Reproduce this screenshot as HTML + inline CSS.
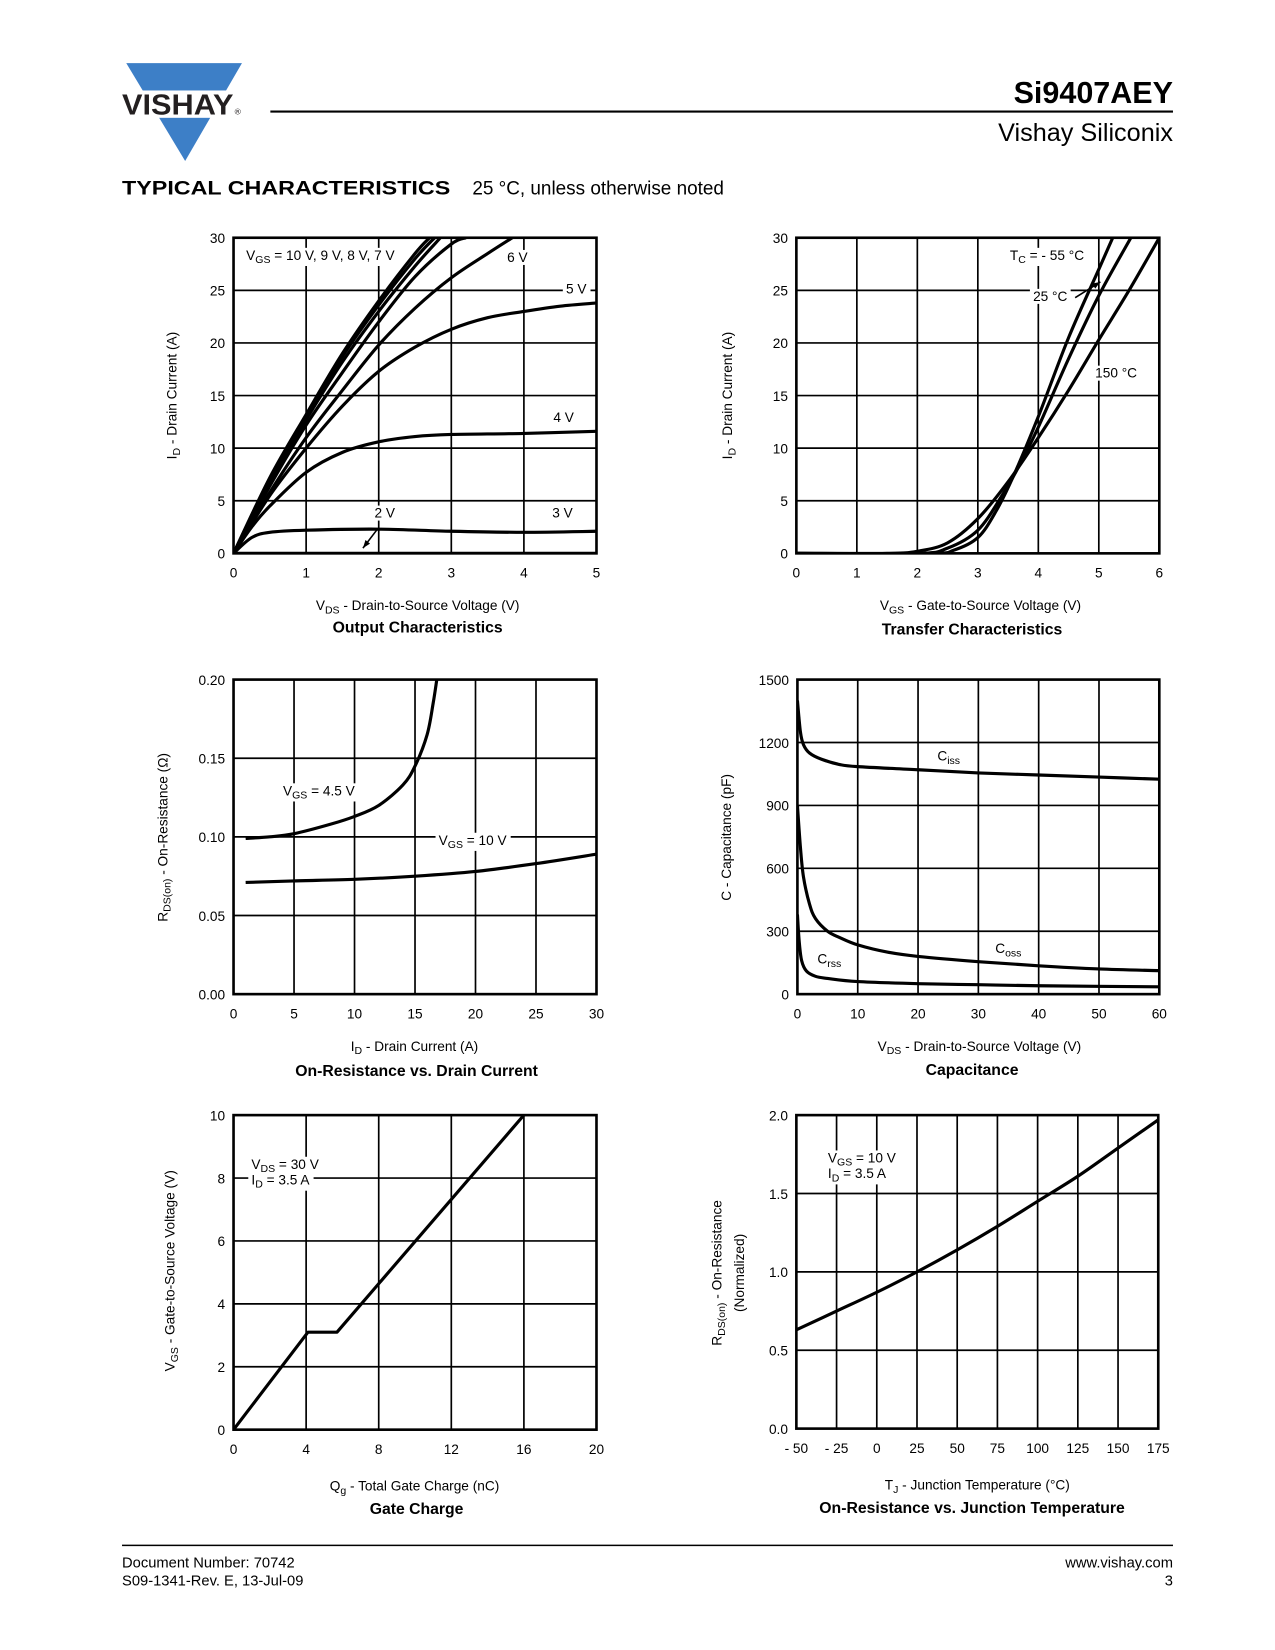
<!DOCTYPE html>
<html><head><meta charset="utf-8"><style>
body{margin:0;background:#fff}
svg{display:block;font-family:"Liberation Sans",Arial,sans-serif}
</style></head><body>
<svg id="page" width="1275" height="1650" viewBox="0 0 1275 1650" xmlns="http://www.w3.org/2000/svg">
<rect width="1275" height="1650" fill="#fff"/>
<g id="scaler" transform="scale(1.052)">
<g>
<polygon points="120,60 230,60 176,153" fill="#3d7fc7"/>
<rect x="112" y="86" width="125" height="26" fill="#fff"/>
<text x="116" y="109" font-size="27" font-weight="bold" fill="#231f20" textLength="106" lengthAdjust="spacingAndGlyphs">VISHAY</text>
<text x="223" y="109" font-size="8" fill="#231f20">®</text>
</g>
<line x1="257" y1="106" x2="1115" y2="106" stroke="#000" stroke-width="2"/>
<text x="1115" y="98" text-anchor="end" font-size="29" font-weight="bold">Si9407AEY</text>
<text x="1115" y="134" text-anchor="end" font-size="24">Vishay Siliconix</text>
<text x="116" y="185" font-size="18" font-weight="bold" textLength="312" lengthAdjust="spacingAndGlyphs">TYPICAL CHARACTERISTICS</text>
<text x="449" y="185" font-size="18">25 °C, unless otherwise noted</text>
<line x1="116" y1="1469" x2="1115" y2="1469" stroke="#000" stroke-width="1.5"/>
<text x="116" y="1490" font-size="14">Document Number: 70742</text>
<text x="116" y="1507" font-size="14">S09-1341-Rev. E, 13-Jul-09</text>
<text x="1115" y="1490" text-anchor="end" font-size="14">www.vishay.com</text>
<text x="1115" y="1507" text-anchor="end" font-size="14">3</text>
<g id="charts"></g>
</g>
</svg>
<script>
// ---- Output characteristics data ----
const out_xticks=[0,1,2,3,4,5];
const out_yticks=[0,5,10,15,20,25,30];
const out10_v=[0,0.5,1,1.5,2,2.5,2.7];
const out10_i=[0,7.2,13.2,19,24,28.5,30];
const out9_v=[0,0.5,1,1.5,2,2.5,2.77];
const out9_i=[0,7,13,18.7,23.6,28,30];
const out8_v=[0,0.5,1,1.5,2,2.5,2.85];
const out8_i=[0,6.8,12.7,18.2,23,27.3,30];
const out7_v=[0,0.5,1,1.5,2,2.5,3,3.2];
const out7_i=[0,6.4,12.2,17.2,22,26.3,29.4,30];
const out6_v=[0,0.5,1,1.5,2,2.5,3,3.5,3.84];
const out6_i=[0,5.8,11,15.5,19.8,23.3,26.2,28.5,30];
const out5_v=[0,0.5,1,1.5,2,2.5,3,3.5,4,4.5,5];
const out5_i=[0,5.5,10,14,17.3,19.6,21.3,22.4,23,23.5,23.8];
const out4_v=[0,0.25,0.5,1,1.5,2,2.5,3,4,5];
const out4_i=[0,2.5,4.5,7.7,9.6,10.6,11.1,11.3,11.4,11.6];
const out3_v=[0,0.25,0.5,1,2,3,4,5];
const out3_i=[0,1.5,2,2.2,2.3,2.1,2.0,2.1];
const out2_v=[0,5];
const out2_i=[0,0];
// ---- Transfer characteristics ----
const tr_xticks=[0,1,2,3,4,5,6];
const tr_yticks=[0,5,10,15,20,25,30];
const trm55_v=[0,2.2,2.6,3,3.3,3.6,4,4.5,5,5.23];
const trm55_i=[0,0,0.3,1.5,4,7.5,13,20.5,27,30];
const tr25_v=[0,2,2.5,3,3.4,3.7,4,4.5,5,5.53];
const tr25_i=[0,0,0.5,2.2,5.5,8.5,12,18.5,24.5,30];
const tr150_v=[0,1.5,2,2.5,3,3.5,4,4.5,5,5.5,6];
const tr150_i=[0,0,0.2,1,3.3,6.8,11,15.5,20.3,25,30];
// ---- On-resistance vs drain current ----
const ron_xticks=[0,5,10,15,20,25,30];
const ron_yticks=[0,0.05,0.1,0.15,0.2];
const ron_ylabels=["0.00","0.05","0.10","0.15","0.20"];
const ron45_id=[1,3,5,8,10,12,14,15,16,16.5,16.8];
const ron45_r=[0.099,0.1,0.102,0.108,0.113,0.12,0.133,0.145,0.165,0.185,0.2];
const ron10_id=[1,5,10,15,20,25,30];
const ron10_r=[0.071,0.072,0.073,0.075,0.078,0.083,0.089];
// ---- Capacitance ----
const cap_xticks=[0,10,20,30,40,50,60];
const cap_yticks=[0,300,600,900,1200,1500];
const ciss_v=[0,0.5,1,2,4,7,10,20,30,40,50,60];
const ciss_c=[1400,1250,1190,1150,1120,1095,1085,1070,1055,1045,1035,1025];
const coss_v=[0,0.5,1,2,3,5,7,10,15,20,30,40,50,60];
const coss_c=[900,700,560,430,360,300,270,235,200,180,155,135,120,112];
const crss_v=[0,0.3,0.7,1.5,3,5,10,20,30,40,60];
const crss_c=[380,250,160,110,85,75,60,50,45,40,35];
// ---- Gate charge ----
const qg_xticks=[0,4,8,12,16,20];
const qg_yticks=[0,2,4,6,8,10];
const qg_q=[0,4.1,5.7,16];
const qg_v=[0,3.1,3.1,10];
// ---- On-resistance vs junction temperature ----
const tj_xticks=[-50,-25,0,25,50,75,100,125,150,175];
const tj_xlabels=["- 50","- 25","0","25","50","75","100","125","150","175"];
const tj_yticks=[0,0.5,1,1.5,2];
const tj_ylabels=["0.0","0.5","1.0","1.5","2.0"];
const tj_t=[-50,-25,0,25,50,75,100,125,150,175];
const tj_r=[0.63,0.75,0.87,1.0,1.14,1.29,1.45,1.61,1.79,1.97];

const NS="http://www.w3.org/2000/svg";
const root=document.getElementById('charts');
function el(tag,parent){const e=document.createElementNS(NS,tag);parent.appendChild(e);return e;}
function makeChart(name,x0,x1,y0,y1,xmin,xmax,ymin,ymax){
  const g=el('g',root);
  
  
  const c={g,x0,x1,y0,y1,
    sx:v=>x0+(v-xmin)/(xmax-xmin)*(x1-x0),
    sy:v=>y0-(v-ymin)/(ymax-ymin)*(y0-y1)};
  const cp=el('clipPath',g);cp.setAttribute('id','clip-'+name);
  const r=el('rect',cp);r.setAttribute('x',x0);r.setAttribute('y',y1);r.setAttribute('width',x1-x0);r.setAttribute('height',y0-y1);
  c.clip='url(#clip-'+name+')';
  return c;
}
function grid(c,xt,yt,xl,yl){
  xt.forEach((v,i)=>{
    const x=c.sx(v);
    if(i>0&&i<xt.length-1){const l=el('line',c.g);
      
      
      l.setAttribute('x1',x);l.setAttribute('x2',x);l.setAttribute('y1',c.y1);l.setAttribute('y2',c.y0);l.setAttribute('stroke','#000');l.setAttribute('stroke-width','1.6');}
    const t=el('text',c.g);
    
    
    t.setAttribute('x',x);t.setAttribute('y',c.y0+23);t.setAttribute('text-anchor','middle');t.setAttribute('font-size','13');
    t.textContent=xl?xl[i]:String(v);
  });
  yt.forEach((v,i)=>{
    const y=c.sy(v);
    if(i>0&&i<yt.length-1){const l=el('line',c.g);
      
      
      l.setAttribute('x1',c.x0);l.setAttribute('x2',c.x1);l.setAttribute('y1',y);l.setAttribute('y2',y);l.setAttribute('stroke','#000');l.setAttribute('stroke-width','1.6');}
    const t=el('text',c.g);
    
    
    t.setAttribute('x',c.x0-8);t.setAttribute('y',y+5);t.setAttribute('text-anchor','end');t.setAttribute('font-size','13');
    t.textContent=yl?yl[i]:String(v);
  });
  const f=el('rect',c.g);
  
  
  f.setAttribute('x',c.x0);f.setAttribute('y',c.y1);f.setAttribute('width',c.x1-c.x0);f.setAttribute('height',c.y0-c.y1);f.setAttribute('fill','none');f.setAttribute('stroke','#000');f.setAttribute('stroke-width','2.5');
}
function series(c,xs,ys,name,straight){
  const p=xs.map((v,i)=>[c.sx(v),c.sy(ys[i])]);
  let d='M'+p[0][0]+','+p[0][1];
  for(let i=1;i<p.length;i++){
    if(straight){d+=' L'+p[i][0]+','+p[i][1];continue;}
    const a=p[i-2]||p[i-1],b=p[i-1],e=p[i],f=p[i+1]||p[i];
    const c1=[b[0]+(e[0]-a[0])/6,b[1]+(e[1]-a[1])/6],c2=[e[0]-(f[0]-b[0])/6,e[1]-(f[1]-b[1])/6];
    d+=' C'+c1+' '+c2+' '+e;
  }
  const path=el('path',c.g);
  
  
  path.setAttribute('d',d);path.setAttribute('fill','none');path.setAttribute('stroke','#000');path.setAttribute('stroke-width','3');path.setAttribute('stroke-linejoin','round');path.setAttribute('clip-path',c.clip);
}
function label(c,x,y,html,anchor,size,bold,bg,rot){
  const t=el('text',c.g);
  
  
  t.setAttribute('x',x);t.setAttribute('y',y);t.setAttribute('font-size',size||13);
  if(anchor)t.setAttribute('text-anchor',anchor);
  if(bold)t.setAttribute('font-weight','bold');
  if(rot)t.setAttribute('transform','rotate(-90 '+x+' '+y+')');
  t.innerHTML=html;
  if(bg){const bb=t.getBBox();const r=document.createElementNS(NS,'rect');
    r.setAttribute('x',bb.x-3);r.setAttribute('y',bb.y);r.setAttribute('width',bb.width+6);r.setAttribute('height',bb.height);r.setAttribute('fill','#fff');
    c.g.insertBefore(r,t);}
  return t;
}
function arrow(c,x1,y1,x2,y2){
  const l=el('line',c.g);
  
  
  l.setAttribute('x1',x1);l.setAttribute('y1',y1);l.setAttribute('x2',x2);l.setAttribute('y2',y2);l.setAttribute('stroke','#000');l.setAttribute('stroke-width','1.5');
  const a=Math.atan2(y2-y1,x2-x1),h=el('polygon',c.g);
  
  
  const p=[[x2,y2],[x2-8*Math.cos(a-0.35),y2-8*Math.sin(a-0.35)],[x2-8*Math.cos(a+0.35),y2-8*Math.sin(a+0.35)]];
  h.setAttribute('points',p.map(q=>q.join(',')).join(' '));
}
const sub=(s)=>'<tspan dy="3" font-size="10">'+s+'</tspan><tspan dy="-3">';

// Chart 1
let c=makeChart('output-characteristics-chart',222,567,526,226,0,5,0,30);
grid(c,out_xticks,out_yticks);
[['vgs-10v',out10_v,out10_i],['vgs-9v',out9_v,out9_i],['vgs-8v',out8_v,out8_i],['vgs-7v',out7_v,out7_i],['vgs-6v',out6_v,out6_i],['vgs-5v',out5_v,out5_i],['vgs-4v',out4_v,out4_i],['vgs-3v',out3_v,out3_i],['vgs-2v',out2_v,out2_i]].forEach(s=>series(c,s[1],s[2],'curve-'+s[0]));
label(c,234,247,'V'+sub('GS')+' = 10 V, 9 V, 8 V, 7 V</tspan>',null,13,false,true);
label(c,482,249,'6 V',null,13,false,true);
label(c,538,279,'5 V',null,13,false,true);
label(c,526,401,'4 V',null,13,false,true);
label(c,356,492,'2 V',null,13,false,true);
label(c,525,492,'3 V',null,13,false,true);
arrow(c,358,504,345,521);
label(c,168,376,'I'+sub('D')+' - Drain Current (A)</tspan>','middle',13,false,false,true);
label(c,397,580,'V'+sub('DS')+' - Drain-to-Source Voltage (V)</tspan>','middle');
label(c,397,601,'Output Characteristics','middle',15,true);

// Chart 2
c=makeChart('transfer-characteristics-chart',757,1102,526,226,0,6,0,30);
grid(c,tr_xticks,tr_yticks);
series(c,trm55_v,trm55_i,'curve-tc-minus55c');
series(c,tr25_v,tr25_i,'curve-tc-25c');
series(c,tr150_v,tr150_i,'curve-tc-150c');
label(c,960,247,'T'+sub('C')+' = - 55 °C</tspan>',null,13,false,true);
label(c,982,286,'25 °C',null,13,false,true);
arrow(c,1022,283,1046,268);
label(c,1041,359,'150 °C',null,13,false,true);
label(c,696,376,'I'+sub('D')+' - Drain Current (A)</tspan>','middle',13,false,false,true);
label(c,932,580,'V'+sub('GS')+' - Gate-to-Source Voltage (V)</tspan>','middle');
label(c,924,603,'Transfer Characteristics','middle',15,true);

// Chart 3
c=makeChart('on-resistance-vs-drain-current-chart',222,567,945,646,0,30,0,0.2);
grid(c,ron_xticks,ron_yticks,null,ron_ylabels);
series(c,ron45_id,ron45_r,'curve-vgs-4-5v');
series(c,ron10_id,ron10_r,'curve-vgs-10v');
label(c,269,756,'V'+sub('GS')+' = 4.5 V</tspan>',null,13,false,true);
label(c,417,803,'V'+sub('GS')+' = 10 V</tspan>',null,13,false,true);
label(c,159,796,'R'+sub('DS(on)')+' - On-Resistance (Ω)</tspan>','middle',13,false,false,true);
label(c,394,999,'I'+sub('D')+' - Drain Current (A)</tspan>','middle');
label(c,396,1023,'On-Resistance vs. Drain Current','middle',15,true);

// Chart 4
c=makeChart('capacitance-chart',758,1102,945,646,0,60,0,1500);
grid(c,cap_xticks,cap_yticks);
series(c,ciss_v,ciss_c,'curve-ciss');
series(c,coss_v,coss_c,'curve-coss');
series(c,crss_v,crss_c,'curve-crss');
label(c,891,723,'C'+sub('iss')+'</tspan>',null,13,false,true);
label(c,946,906,'C'+sub('oss')+'</tspan>',null,13,false,true);
label(c,777,916,'C'+sub('rss')+'</tspan>',null,13,false,true);
label(c,695,796,'C - Capacitance (pF)','middle',13,false,false,true);
label(c,931,999,'V'+sub('DS')+' - Drain-to-Source Voltage (V)</tspan>','middle');
label(c,924,1022,'Capacitance','middle',15,true);

// Chart 5
c=makeChart('gate-charge-chart',222,567,1359,1060,0,20,0,10);
grid(c,qg_xticks,qg_yticks);
series(c,qg_q,qg_v,'curve-gate-charge',true);
label(c,239,1111,'V'+sub('DS')+' = 30 V</tspan>',null,13,false,true);
label(c,239,1126,'I'+sub('D')+' = 3.5 A</tspan>',null,13,false,true);
label(c,166,1208,'V'+sub('GS')+' - Gate-to-Source Voltage (V)</tspan>','middle',13,false,false,true);
label(c,394,1417,'Q'+sub('g')+' - Total Gate Charge (nC)</tspan>','middle');
label(c,396,1439,'Gate Charge','middle',15,true);

// Chart 6
c=makeChart('on-resistance-vs-temperature-chart',757,1101,1358,1060,-50,175,0,2);
grid(c,tj_xticks,tj_yticks,tj_xlabels,tj_ylabels);
series(c,tj_t,tj_r,'curve-rds-normalized');
label(c,787,1105,'V'+sub('GS')+' = 10 V</tspan>',null,13,false,true);
label(c,787,1120,'I'+sub('D')+' = 3.5 A</tspan>',null,13,false,true);
label(c,686,1210,'R'+sub('DS(on)')+' - On-Resistance</tspan>','middle',13,false,false,true);
label(c,707,1210,'(Normalized)','middle',13,false,false,true);
label(c,929,1416,'T'+sub('J')+' - Junction Temperature (°C)</tspan>','middle');
label(c,924,1438,'On-Resistance vs. Junction Temperature','middle',15,true);
</script>
</body></html>
